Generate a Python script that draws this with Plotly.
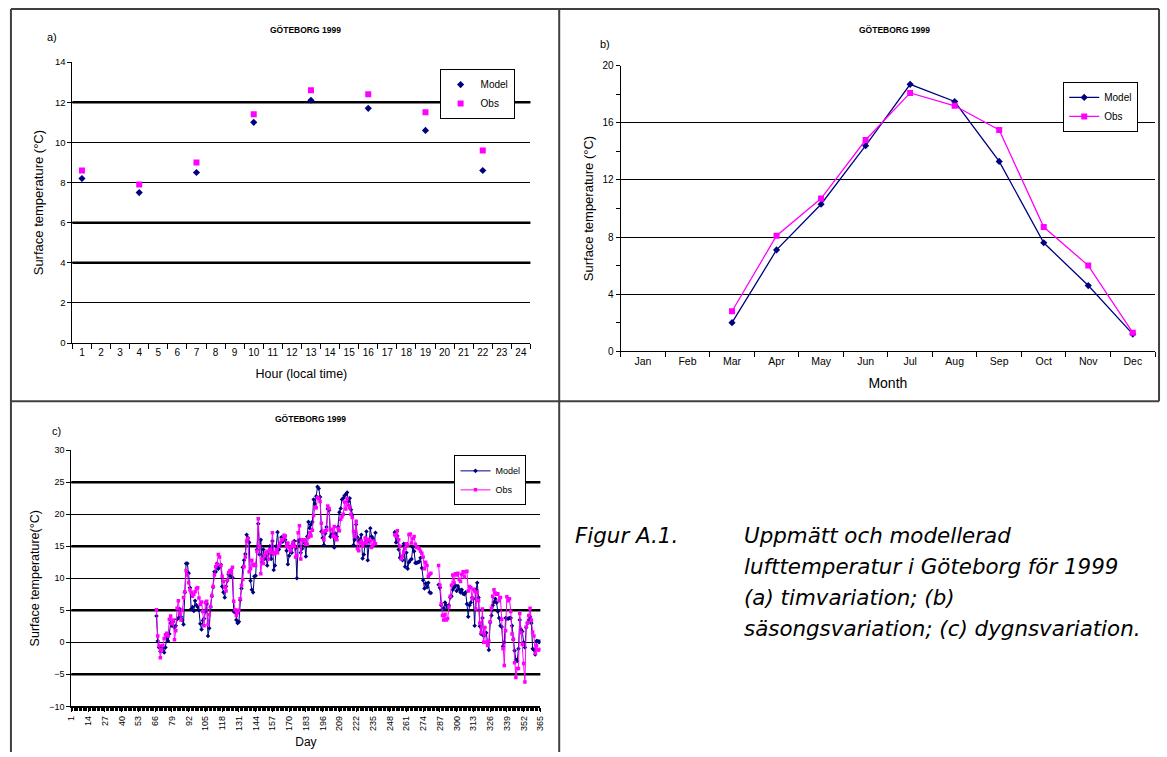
import plotly.graph_objects as go

W, H = 1167, 757

# ---------------- data ----------------
hours_a = [str(h) for h in range(1, 25)]
hours_obs_a = ["1", "4", "7", "10", "13", "16", "19", "22"]
model_a = [8.2, 7.5, 8.5, 11.0, 12.1, 11.7, 10.6, 8.6]
obs_a = [8.6, 7.9, 9.0, 11.4, 12.6, 12.4, 11.5, 9.6]

months_b = ["Jan", "Feb", "Mar", "Apr", "May", "Jun", "Jul", "Aug", "Sep", "Oct", "Nov", "Dec"]
months_obs_b = ["Mar", "Apr", "May", "Jun", "Jul", "Aug", "Sep", "Oct", "Nov", "Dec"]
model_b = [2.0, 7.1, 10.3, 14.4, 18.7, 17.5, 13.3, 7.6, 4.6, 1.2]
obs_b = [2.8, 8.1, 10.7, 14.8, 18.1, 17.2, 15.5, 8.7, 6.0, 1.3]

days_c = list(range(67, 366))
day_ticks_c = [1, 14, 27, 40, 53, 66, 79, 92, 105, 118, 131, 144, 157, 170, 183,
               196, 209, 222, 235, 248, 261, 274, 287, 300, 313, 326, 339, 352, 365]

# day 67-237
model_c_1 = [4.1, 0.2, -0.8, -1.4, -0.6, -0.9, -1.6, -0.8, 1.0, 0.2,
             1.3, 3.0, 2.6, 3.2, 2.3, 2.6, 3.6, 3.8, 5.2, 4.0,
             3.5, 2.8, 7.8, 12.3, 12.3, 10.8, 8.5, 5.2, 5.5, 4.9,
             6.5, 5.8, 5.5, 5.0, 2.9, 2.0, 3.4, 3.7, 4.8, 6.0,
             1.0, 2.2, 5.5, 7.2, 8.6, 11.0, 11.0, 12.3, 11.5, 11.8,
             12.1, 8.7, 7.8, 7.0, 8.7, 9.6, 10.6, 10.4, 11.3, 10.1,
             4.8, 4.7, 3.5, 3.0, 3.2, 6.6, 8.4, 11.7, 12.8, 13.8,
             16.8, 16.3, 15.6, 9.6, 8.2, 7.8, 10.3, 10.4, 14.5, 18.5,
             13.7, 16.0, 12.5, 14.5, 13.0, 13.5, 12.0, 14.0, 15.0, 13.0,
             15.8, 11.3, 12.0, 15.0, 17.2, 14.5, 15.0, 16.4, 15.7, 16.5,
             16.0, 14.3, 12.2, 13.5, 14.8, 14.0, 15.4, 15.8, 14.7, 10.0,
             15.8, 16.0, 14.0, 14.6, 15.8, 15.5, 13.4, 16.5, 18.8, 17.8,
             18.4, 18.8, 22.3, 21.6, 22.8, 24.3, 24.0, 22.7, 17.3, 16.3,
             15.2, 17.0, 18.0, 20.8, 20.6, 16.5, 16.8, 17.0, 14.8, 17.0,
             16.5, 18.0, 20.3, 20.9, 22.3, 22.5, 22.9, 23.1, 23.4, 22.0,
             22.5, 20.7, 19.9, 15.2, 16.0, 18.4, 16.4, 15.8, 16.0, 16.8,
             13.1, 13.7, 15.5, 17.3, 12.8, 15.8, 17.8, 16.5, 16.2, 15.3,
             17.1]
obs_c_1 = [5.1, 1.0, -0.5, -2.4, -1.2, -0.5, 0.6, 1.2, 1.4, 1.0,
           3.6, 4.1, 2.9, 3.5, 0.4, 1.8, 5.3, 6.5, 4.5, 3.5,
           5.0, 7.0, 7.9, 11.2, 10.5, 9.3, 8.2, 7.8, 7.2, 7.5,
           7.9, 8.4, 8.5, 6.9, 5.9, 6.3, 4.8, 2.6, 6.2, 6.4,
           2.8, 4.3, 5.6, 7.3, 8.7, 10.5, 11.8, 12.2, 13.7, 13.3,
           12.0, 10.3, 9.5, 8.6, 8.0, 9.7, 10.9, 11.2, 10.9, 11.7,
           6.4, 5.1, 4.2, 4.6, 5.0, 6.8, 8.9, 9.8, 11.8, 13.3,
           15.8, 16.2, 11.0, 11.5, 12.8, 12.0, 12.2, 12.0, 14.2, 19.3,
           15.0, 10.7, 13.0, 12.3, 13.5, 14.0, 14.2, 13.0, 14.5, 14.0,
           17.1, 13.8, 14.0, 14.5, 14.0, 15.0, 15.5, 16.0, 16.0, 16.7,
           16.6, 15.0, 15.5, 14.8, 14.3, 15.0, 15.6, 15.0, 13.3, 13.5,
           17.1, 18.2, 13.0, 16.0, 15.8, 16.0, 15.3, 15.3, 16.4, 17.1,
           16.6, 17.5, 19.8, 21.0, 21.0, 22.6, 22.5, 22.0, 18.6, 17.2,
           16.0, 17.4, 17.5, 21.3, 20.9, 17.6, 17.6, 16.5, 18.1, 16.3,
           16.0, 17.8, 17.4, 19.2, 19.6, 20.0, 21.9, 20.8, 22.4, 21.4,
           21.0, 20.0, 19.5, 17.3, 16.5, 18.9, 14.6, 14.3, 15.5, 15.8,
           15.0, 15.5, 16.3, 15.5, 16.0, 16.1, 15.8, 14.8, 15.2, 15.8,
           15.4]
# days 238-251 missing
gap_c_1 = [None] * 14
# day 252-280
model_c_2 = [17.2, 15.6, 16.6, 14.5, 13.2, 13.4, 12.8, 15.4, 11.8, 14.0,
             11.5, 12.5, 12.8, 13.0, 14.8, 14.2, 12.4, 12.4, 12.5, 12.6,
             13.2, 11.6, 9.7, 8.4, 9.2, 8.6, 9.3, 7.8, 7.7]
obs_c_2 = [16.8, 16.5, 17.4, 16.0, 15.0, 13.0, 13.4, 14.1, 14.7, 15.4,
           15.2, 16.8, 16.9, 15.5, 16.2, 16.5, 15.3, 14.8, 14.8, 14.6,
           14.2, 13.9, 13.3, 11.5, 12.5, 12.0, 10.3, 10.6, 10.8]
# days 281-285 missing
gap_c_2 = [None] * 5
# day 286-365
model_c_3 = [9.0, 8.5, 5.8, 5.2, 5.3, 6.2, 5.8, 5.4, 5.8, 7.0,
             7.2, 8.2, 8.6, 8.9, 8.0, 8.8, 8.3, 7.8, 8.2, 7.6,
             7.5, 7.8, 6.0, 4.0, 5.8, 6.2, 7.0, 6.8, 2.6, 8.2,
             9.3, 7.0, 2.5, 1.3, 3.8, 1.0, 1.2, 1.5, 0.0, -1.2,
             3.1, 4.2, 5.8, 6.3, 6.8, 6.2, 4.8, 3.8, 2.6, 2.4,
             -0.6, 0.0, 3.8, 3.7, 3.7, 3.8, 3.8, 2.6, 0.4, -1.3,
             -2.7, -2.9, -1.0, 3.5, 2.0, 1.7, 0.0, -0.8, 2.3, 3.0,
             3.5, 4.0, 3.0, -1.0, -1.2, -1.9, 0.2, 0.2, 0.0, 0.2]
obs_c_3 = [12.0, 8.9, 6.0, 4.2, 3.5, 4.4, 3.5, 3.7, 5.5, 7.2,
           8.9, 10.5, 9.3, 10.7, 10.5, 10.8, 9.8, 9.5, 10.6, 11.0,
           10.2, 11.0, 11.1, 8.0, 8.7, 8.5, 6.8, 8.3, 8.0, 5.2,
           7.8, 6.5, 3.0, 1.5, 5.2, 0.0, 2.3, 0.0, -0.5, 0.2,
           3.2, 5.3, 7.2, 8.2, 7.7, 7.5, 7.6, 6.5, 7.0, 3.6,
           -1.0, -3.6, 1.8, 7.1, 6.5, 6.8, 4.8, 1.3, 0.5, -3.2,
           -5.5, -4.1, -4.1, 4.5, 1.5, -0.3, -3.3, -6.2, 2.4, 3.0,
           4.2, 5.3, 3.5, 1.6, 1.0, -1.7, -0.5, -1.2, -1.2, -1.1]

model_c = model_c_1 + gap_c_1 + model_c_2 + gap_c_2 + model_c_3
obs_c = obs_c_1 + gap_c_1 + obs_c_2 + gap_c_2 + obs_c_3

bold_grid_a = [4, 6, 12]
bold_grid_c = [-5, 5, 15, 25]

NAVY = "#000080"
MAG = "#FF00FF"
FONT = "Liberation Sans, Arial, sans-serif"


def px(x):
    return x / W


def py(y):
    return 1 - y / H


fig = go.Figure()

# ---- panel a ----
fig.add_trace(go.Scatter(x=hours_obs_a, y=model_a, mode="markers", name="Model",
                         marker=dict(symbol="diamond", size=5.5, color=NAVY),
                         xaxis="x", yaxis="y", legend="legend"))
fig.add_trace(go.Scatter(x=hours_obs_a, y=obs_a, mode="markers", name="Obs",
                         marker=dict(symbol="square", size=6, color=MAG),
                         xaxis="x", yaxis="y", legend="legend"))

# ---- panel b ----
fig.add_trace(go.Scatter(x=months_obs_b, y=model_b, mode="lines+markers", name="Model",
                         line=dict(color=NAVY, width=1.3),
                         marker=dict(symbol="diamond", size=5.5, color=NAVY),
                         xaxis="x2", yaxis="y2", legend="legend2"))
fig.add_trace(go.Scatter(x=months_obs_b, y=obs_b, mode="lines+markers", name="Obs",
                         line=dict(color=MAG, width=1.3),
                         marker=dict(symbol="square", size=6, color=MAG),
                         xaxis="x2", yaxis="y2", legend="legend2"))

# ---- panel c ----
fig.add_trace(go.Scatter(x=days_c, y=model_c, mode="lines+markers", name="Model",
                         line=dict(color=NAVY, width=1),
                         marker=dict(symbol="diamond", size=3.5, color=NAVY),
                         xaxis="x3", yaxis="y3", legend="legend3"))
fig.add_trace(go.Scatter(x=days_c, y=obs_c, mode="lines+markers", name="Obs",
                         line=dict(color=MAG, width=1),
                         marker=dict(symbol="square", size=3.5, color=MAG),
                         xaxis="x3", yaxis="y3", legend="legend3"))

axis_common = dict(showline=True, linecolor="black", linewidth=1, ticks="outside",
                   ticklen=4, tickcolor="black", zeroline=False,
                   tickfont=dict(family=FONT, size=9.5, color="black"))

shapes = []
for v in bold_grid_a:
    shapes.append(dict(type="line", xref="x domain", yref="y", x0=0, x1=1, y0=v, y1=v,
                       line=dict(color="black", width=2.5), layer="below"))
for v in bold_grid_c:
    shapes.append(dict(type="line", xref="x3 domain", yref="y3", x0=0, x1=1, y0=v, y1=v,
                       line=dict(color="black", width=2.5), layer="below"))

FRAME = dict(color="#404040", width=2)
frame_lines = [
    (6, 3, 1164, 3), (6, 3, 6, 757), (1164, 3, 1164, 401),
    (559, 3, 559, 757), (6, 401, 1164, 401),
]
for x0, y0, x1, y1 in frame_lines:
    shapes.append(dict(type="line", xref="paper", yref="paper",
                       x0=px(x0), y0=py(y0), x1=px(x1), y1=py(y1), line=FRAME))

annotations = []
for (cx, cy, label) in [(303, 24, "GÖTEBORG 1999"), (897, 24, "GÖTEBORG 1999"),
                        (308, 419, "GÖTEBORG 1999")]:
    annotations.append(dict(x=px(cx), y=py(cy), xref="paper", yref="paper", showarrow=False,
                            text="<b>" + label + "</b>", xanchor="center", yanchor="middle",
                            font=dict(family=FONT, size=8.5, color="black")))
for (cx, cy, label) in [(47, 31, "a)"), (605, 39, "b)"), (52, 431, "c)")]:
    annotations.append(dict(x=px(cx), y=py(cy), xref="paper", yref="paper", showarrow=False,
                            text=label, xanchor="center", yanchor="middle",
                            font=dict(family=FONT, size=11, color="black")))

CAP_FONT = dict(family="DejaVu Sans", size=21.4, color="black", style="italic")
annotations.append(dict(x=px(573), y=py(537), xref="paper", yref="paper", showarrow=False,
                        text="Figur A.1.", xanchor="left", yanchor="middle", font=CAP_FONT))
caption_lines = ["Uppmätt och modellerad", "lufttemperatur i Göteborg för 1999",
                 "(a) timvariation; (b)", "säsongsvariation; (c) dygnsvariation."]
for i, line in enumerate(caption_lines):
    annotations.append(dict(x=px(743), y=py(537 + 31.7 * i), xref="paper", yref="paper",
                            showarrow=False, text=line, xanchor="left",
                            yanchor="middle", font=CAP_FONT))

legend_common = dict(bgcolor="white", bordercolor="black", borderwidth=1,
                     font=dict(family=FONT, size=10, color="black"),
                     xanchor="right", yanchor="top", tracegroupgap=0)

fig.update_layout(
    width=W, height=H, margin=dict(l=0, r=0, t=0, b=0),
    paper_bgcolor="white", plot_bgcolor="white",
    font=dict(family=FONT, color="black"),
    showlegend=True,
    xaxis=dict(axis_common, domain=[px(68), px(530)], anchor="y", type="category",
               categoryorder="array", categoryarray=hours_a, range=[-0.5, 23.5],
               tickson="boundaries", showgrid=False, tickangle=0, ticklen=5,
               tickfont=dict(family=FONT, size=10, color="black"),
               title=dict(text="Hour (local time)", standoff=12,
                          font=dict(family=FONT, size=12.5, color="black"))),
    yaxis=dict(axis_common, domain=[py(342), py(57)], anchor="x", range=[0, 14], dtick=2,
               showgrid=True, gridcolor="black", gridwidth=1,
               title=dict(text="Surface temperature (°C)", standoff=8,
                          font=dict(family=FONT, size=13, color="black"))),
    xaxis2=dict(axis_common, domain=[px(621), px(1160)], anchor="y2", type="category",
                categoryorder="array", categoryarray=months_b, range=[-0.5, 11.5],
                tickson="boundaries", showgrid=False, tickangle=0, ticklen=5,
                tickfont=dict(family=FONT, size=10.5, color="black"),
                title=dict(text="Month", standoff=12,
                           font=dict(family=FONT, size=14, color="black"))),
    yaxis2=dict(axis_common, domain=[py(350.3), py(60.7)], anchor="x2", range=[0, 20], dtick=4,
                showgrid=True, gridcolor="black", gridwidth=1.3,
                tickfont=dict(family=FONT, size=10, color="black"),
                minor=dict(dtick=2, ticks="outside", ticklen=4, tickcolor="black", showgrid=False),
                title=dict(text="Surface temperature (°C)", standoff=5,
                           font=dict(family=FONT, size=13, color="black"))),
    xaxis3=dict(axis_common, domain=[px(67), px(540)], anchor="y3", range=[1, 365],
                tickmode="array", tickvals=day_ticks_c, ticktext=[str(d) for d in day_ticks_c],
                tickangle=-90, ticklen=4, linewidth=2, showgrid=False,
                tickfont=dict(family=FONT, size=9, color="black"),
                minor=dict(dtick=1, tick0=1, ticks="outside", ticklen=3, tickcolor="black",
                           tickwidth=1, showgrid=False),
                title=dict(text="Day", standoff=8,
                           font=dict(family=FONT, size=12, color="black"))),
    yaxis3=dict(axis_common, domain=[py(710.7), py(450.7)], anchor="x3", range=[-10, 30], dtick=5,
                showgrid=True, gridcolor="black", gridwidth=1,
                tickfont=dict(family=FONT, size=9, color="black"),
                title=dict(text="Surface temperature(°C)", standoff=6,
                           font=dict(family=FONT, size=12.5, color="black"))),
    legend=dict(legend_common, x=px(514), y=py(64)),
    legend2=dict(legend_common, x=px(1143), y=py(77)),
    legend3=dict(legend_common, x=px(526), y=py(456), font=dict(family=FONT, size=9, color="black")),
    shapes=shapes,
    annotations=annotations,
)

fig.write_html("out.html")
